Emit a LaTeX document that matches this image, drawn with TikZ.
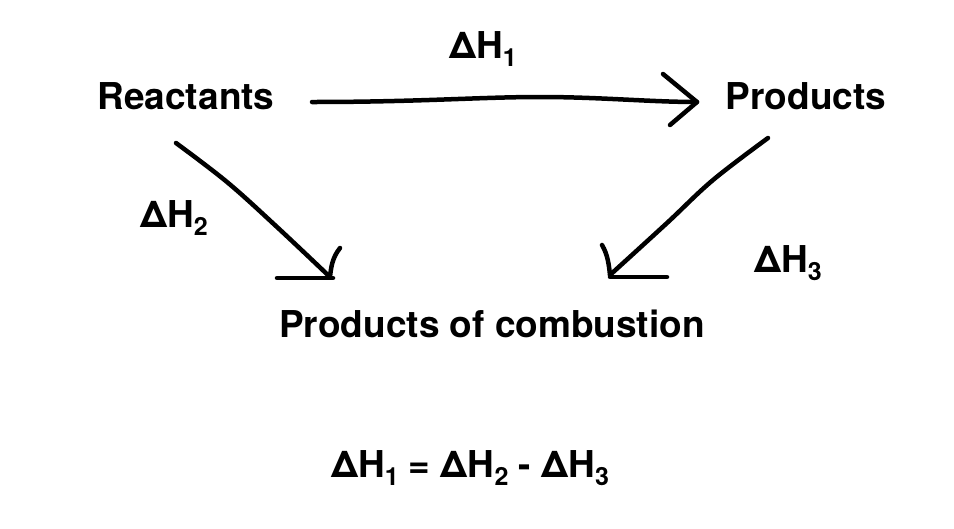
\documentclass[tikz,border=0pt]{standalone}
\usepackage{fontspec}
\setmainfont{TeX Gyre Heros}
\newcommand\dsub[1]{\raisebox{-8pt}{\fontsize{25}{25}\selectfont #1}}
\begin{document}
\begin{tikzpicture}[x=1pt,y=-1pt,
  lbl/.style={inner sep=0pt,font=\fontsize{37}{42}\selectfont\bfseries},
  hand/.style={line width=4.5pt,line cap=round,line join=round}]
\useasboundingbox (0,0) rectangle (954,528);
\node[lbl,anchor=base] (react) at (186,109) {Reactants};
\node[lbl,anchor=base] (prod) at (806,109) {Products};
\node[lbl,anchor=base west] (dh1) at (449,58) {ΔH\dsub{1}};
\node[lbl,anchor=base west] (dh2) at (140,227) {ΔH\dsub{2}};
\node[lbl,anchor=base west] (dh3) at (754,272) {ΔH\dsub{3}};
\node[lbl,anchor=base] (comb) at (492,337) {Products of combustion};
\node[lbl,anchor=base] (eq) at (470,477) {ΔH\dsub{1} = ΔH\dsub{2} - ΔH\dsub{3}};
% top arrow
\coordinate (a1s) at (312,102);
\coordinate (a1e) at (697,102);
\draw[hand] (a1s) .. controls (420,102) and (480,97) .. (540,97) .. controls (600,97) and (650,102) .. (a1e);
\draw[hand] (663,74) -- (a1e) -- (670,125);
% left arrow
\coordinate (a2s) at (176,143);
\coordinate (a2e) at (330,277);
\draw[hand] plot[smooth,tension=0.6] coordinates {(a2s) (227,182) (277,227) (a2e)};
\draw[hand] (340,248) .. controls (332,258) and (331,268) .. (a2e);
\draw[hand] (277,278) -- (333,278);
% right arrow
\coordinate (a3s) at (768,138);
\coordinate (a3e) at (610,275);
\draw[hand] plot[smooth,tension=0.6] coordinates {(a3s) (713,180) (667,223) (a3e)};
\draw[hand] (602,245) .. controls (608,255) and (609,266) .. (a3e);
\draw[hand] (610,277) -- (667,277);
\end{tikzpicture}
\end{document}
